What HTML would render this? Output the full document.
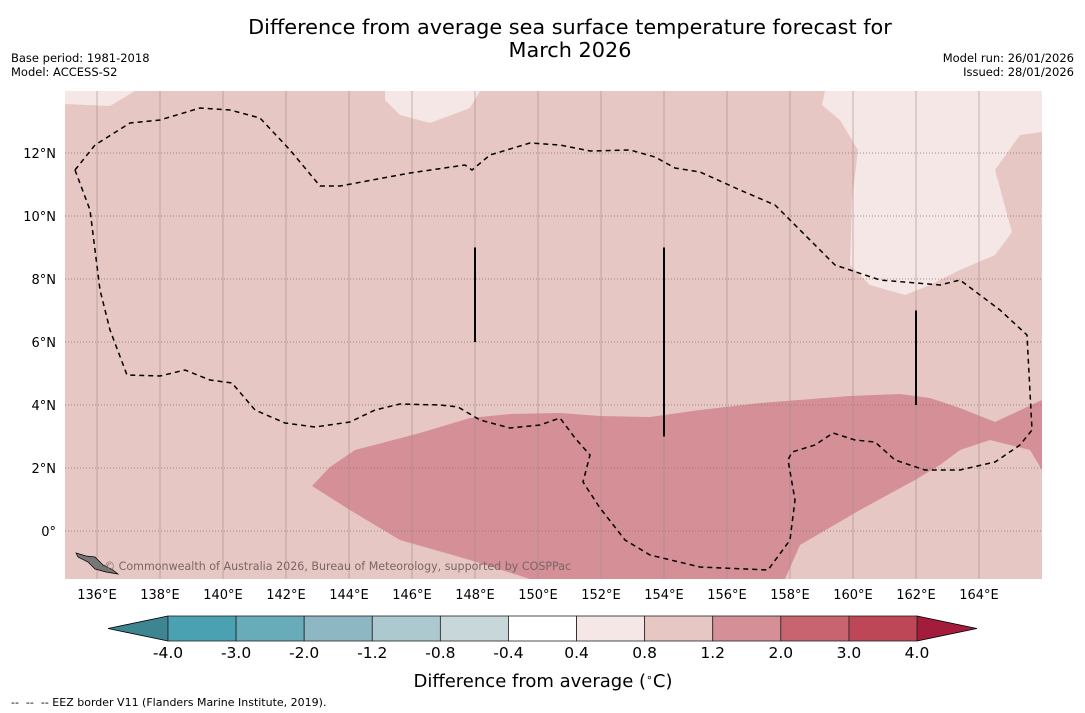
<!DOCTYPE html>
<html><head><meta charset="utf-8">
<style>
body{margin:0;background:#fff;font-family:"DejaVu Sans","Liberation Sans",sans-serif;}
svg{display:block}
text{white-space:pre}
</style></head>
<body>
<svg id="chart" width="1085" height="713" xmlns="http://www.w3.org/2000/svg">
<text x="570" y="34" text-anchor="middle" font-size="20.8">Difference from average sea surface temperature forecast for</text>
<text x="570" y="57" text-anchor="middle" font-size="20.8">March 2026</text>
<text x="11" y="62" font-size="11.5">Base period: 1981-2018</text>
<text x="11" y="76" font-size="11.5">Model: ACCESS-S2</text>
<text x="1074" y="62" font-size="11.5" text-anchor="end">Model run: 26/01/2026</text>
<text x="1074" y="76" font-size="11.5" text-anchor="end">Issued: 28/01/2026</text>
<g id="map"></g>
<g id="cbar"></g>
<text x="543" y="687" text-anchor="middle" font-size="18">Difference from average (<tspan baseline-shift="super" font-size="11">∘</tspan>C)</text>
<text x="11" y="706" font-size="11">--  --  -- EEZ border V11 (Flanders Marine Institute, 2019).</text>
</svg>
<script>
const lonTicks=[136,138,140,142,144,146,148,150,152,154,156,158,160,162,164];
const latTicks=[0,2,4,6,8,10,12];
const cbarLevels=["-4.0","-3.0","-2.0","-1.2","-0.8","-0.4","0.4","0.8","1.2","2.0","3.0","4.0"];
const cbarColors=["#4aa1b1","#68abb9","#8cb7c3","#abc9ce","#c8d7da","#ffffff","#f5e7e5","#e7c7c3","#d48f97","#c7646f","#bd4757"];
const NS="http://www.w3.org/2000/svg";
const X0=65,X1=1042,Y0=91,Y1=579;
const px=lon=>97+(lon-136)*31.5;
const py=lat=>531-lat*31.5;
const fx=x=>136+(x-97)/31.5, fy=y=>(531-y)/31.5;
function toGeo(a){return a.map(p=>[fx(p[0]),fy(p[1])]);}
const warmRegion=toGeo([[312,486],[330,467],[355,450],[420,433],[470,418],[510,414],[560,413],[600,416],[650,417],[700,410],[760,403],[850,396],[900,394],[930,398],[960,408],[995,422],[1042,400],[1042,470],[1030,450],[990,440],[960,450],[940,465],[915,480],[860,510],[800,545],[785,579],[530,579],[470,560],[400,540],[350,510]]);
const lightNE=toGeo([[825,91],[1042,91],[1042,132],[1020,135],[995,170],[1012,232],[995,255],[960,270],[930,285],[905,295],[870,285],[850,265],[852,200],[858,150],[840,120],[822,105]]);
const lightN=toGeo([[385,91],[480,91],[470,108],[430,123],[400,115],[385,100]]);
const lightNW=toGeo([[65,91],[135,91],[110,106],[65,104]]);
const eez=toGeo([[75,170],[95,145],[130,123],[160,120],[200,108],[230,110],[260,118],[290,150],[320,186],[340,186],[410,173],[465,165],[472,170],[490,155],[530,143],[560,145],[590,151],[630,150],[655,157],[675,168],[700,172],[740,190],[775,205],[800,230],[835,265],[880,280],[940,285],[960,280],[1000,310],[1027,335],[1032,430],[1020,445],[995,462],[960,470],[925,470],[895,460],[875,442],[855,440],[833,433],[815,445],[792,452],[788,460],[795,500],[790,540],[768,570],[700,567],[650,555],[625,540],[600,508],[583,482],[590,455],[575,438],[560,418],[540,425],[510,428],[480,420],[458,407],[440,405],[400,404],[375,410],[350,422],[315,427],[285,423],[255,410],[232,383],[210,380],[185,370],[160,376],[127,375],[110,330],[100,290],[95,250],[90,210],[75,170]]);
const boundaryLines=[[148,9,6],[154,9,3],[162,7,4]];
const map=document.getElementById('map');
function el(t,a,p){const e=document.createElementNS(NS,t);for(const k in a)e.setAttribute(k,a[k]);(p||map).appendChild(e);return e;}
function pts(a){return a.map(p=>px(p[0]).toFixed(1)+','+py(p[1]).toFixed(1)).join(' ');}
const clip=el('clipPath',{id:'clip'});
el('rect',{x:X0,y:Y0,width:X1-X0,height:Y1-Y0},clip);
const g=el('g',{'clip-path':'url(#clip)'});
let r=el('rect',{x:X0,y:Y0,width:X1-X0,height:Y1-Y0,fill:'#e7c7c3'},g);

[[lightNE,'light-region-ne'],[lightN,'light-region-n'],[lightNW,'light-region-nw']].forEach(([a,n])=>{const e=el('polygon',{points:pts(a),fill:'#f5e7e5'},g);});
let w=el('polygon',{points:pts(warmRegion),fill:'#d48f97'},g);

lonTicks.forEach(l=>{const e=el('line',{x1:px(l),x2:px(l),y1:Y0,y2:Y1,stroke:'#a08a88','stroke-width':0.6},g);
 const t=el('text',{x:px(l),y:599,'text-anchor':'middle','font-size':13});t.textContent=l+'°E';});
latTicks.forEach(l=>{const e=el('line',{x1:X0,x2:X1,y1:py(l),y2:py(l),stroke:'#8a7270','stroke-width':0.8,'stroke-dasharray':'1,2'},g);
 const t=el('text',{x:56,y:py(l)+5,'text-anchor':'end','font-size':13});t.textContent=l===0?'0°':l+'°N';});
let d=el('polyline',{points:pts(eez),fill:'none',stroke:'#000','stroke-width':1.5,'stroke-dasharray':'5,4'},g);

boundaryLines.forEach(b=>{const e=el('line',{x1:px(b[0]),x2:px(b[0]),y1:py(b[1]),y2:py(b[2]),stroke:'#000','stroke-width':2},g);});
let land=el('polygon',{points:'76,553 86,556 95,557 103,565 113,570 118,574 106,572 95,569 88,562 78,557',fill:'#777',stroke:'#000','stroke-width':0.7},g);

let cr=el('text',{x:104,y:570,'font-size':11.1,fill:'#7a6666'},g);cr.textContent='© Commonwealth of Australia 2026, Bureau of Meteorology, supported by COSPPac';

const cb=document.getElementById('cbar');
const CX0=168,CX1=917,CY0=616,CY1=641,bw=(CX1-CX0)/cbarColors.length;
let t1=el('polygon',{points:`108,628.5 ${CX0},${CY0} ${CX0},${CY1}`,fill:'#3d8590',stroke:'#000','stroke-width':0.8},cb);

let t2=el('polygon',{points:`977,628.5 ${CX1},${CY0} ${CX1},${CY1}`,fill:'#a31c3b',stroke:'#000','stroke-width':0.8},cb);

cbarColors.forEach((c,i)=>{const e=el('rect',{x:CX0+i*bw,y:CY0,width:bw,height:CY1-CY0,fill:c,stroke:'#222','stroke-width':0.8},cb);});
cbarLevels.forEach((v,i)=>{const t=el('text',{x:CX0+i*bw,y:658,'text-anchor':'middle','font-size':15.5},cb);t.textContent=v;});
</script>
</body></html>
